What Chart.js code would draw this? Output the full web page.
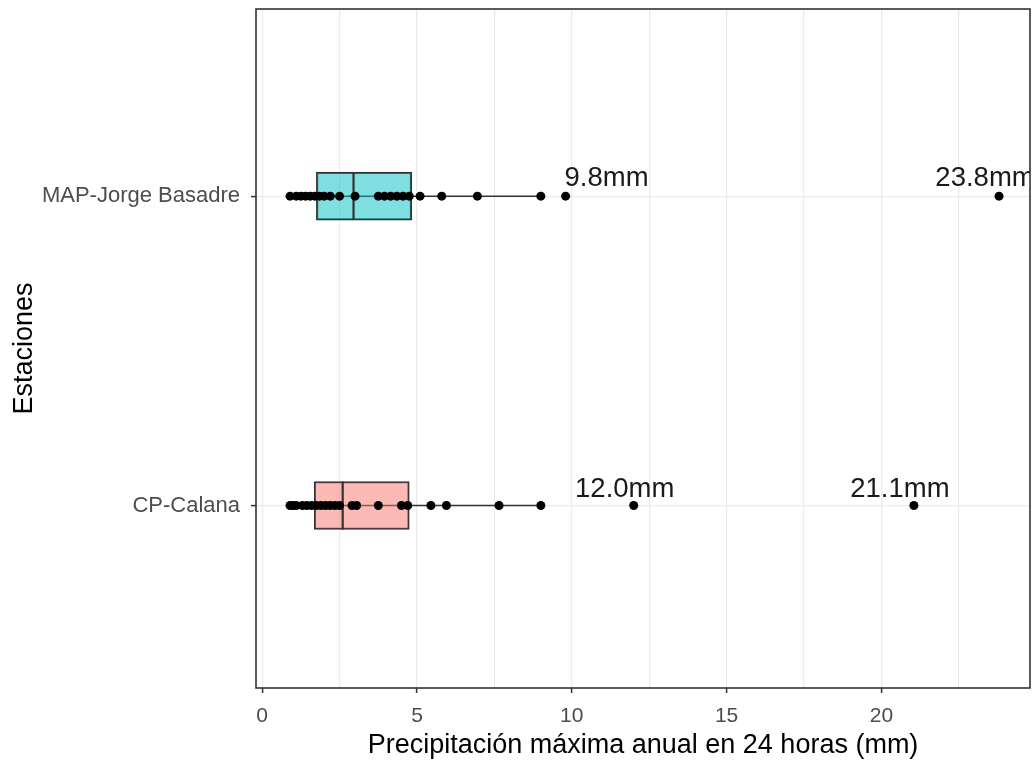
<!DOCTYPE html>
<html>
<head>
<meta charset="utf-8">
<script src="https://cdn.jsdelivr.net/npm/chart.js@4"></script>
<style>
  html, body { margin: 0; padding: 0; background: #ffffff; }
  #wrap { width: 1033px; height: 760px; }
</style>
</head>
<body>
<div id="wrap"><canvas id="chartBox"></canvas></div>
<script>
// Stations, bottom to top (y = 1, 2)
const stations = ['CP-Calana', 'MAP-Jorge Basadre'];

// Annual max 24h precipitation (mm) per station
const calanaValues = [0.9, 1.0, 1.1, 1.3, 1.45, 1.6, 1.75, 1.9, 2.05, 2.2, 2.35, 2.5,
    2.9, 3.05, 3.75, 4.5, 4.7, 5.45, 5.95, 7.65, 9.0, 12.0, 21.05];
const basadreValues = [0.9, 1.1, 1.25, 1.4, 1.55, 1.7, 1.85, 2.0, 2.2, 2.5, 3.0,
    3.75, 3.95, 4.15, 4.35, 4.55, 4.75, 5.1, 5.8, 6.95, 9.0, 9.8, 23.8];

// Box statistics (same order as stations)
const q1Values = [1.68, 1.75];
const medianValues = [2.6, 2.95];
const q3Values = [4.75, 4.83];
const whiskerLow = [0.9, 0.9];
const whiskerHigh = [9.0, 9.0];

// Labelled extreme values
const calanaLabels = [12.0, 21.05];
const basadreLabels = [9.8, 23.8];
const labelTexts = ['12.0mm', '21.1mm', '9.8mm', '23.8mm'];

// Axis ticks
const xMajorTicks = [0, 5, 10, 15, 20];
const xMinorTicks = [2.5, 7.5, 12.5, 17.5, 22.5];
const xTickLabels = ['0', '5', '10', '15', '20'];

const boxFills = ['rgba(248, 118, 109, 0.5)', 'rgba(0, 191, 196, 0.5)'];
const ink = '#333333';
const gridColor = '#ebebeb';

// =========================================
// DATASETS
// =========================================

const whiskerSets = stations.map((s, i) => ({
    type: 'line',
    data: [{ x: whiskerLow[i], y: i + 1 }, { x: whiskerHigh[i], y: i + 1 }],
    borderColor: ink,
    borderWidth: 1.5,
    pointRadius: 0,
    order: 3
}));

const boxSet = {
    type: 'bar',
    indexAxis: 'y',
    data: stations.map((s, i) => ({ x: [q1Values[i], q3Values[i]], y: i + 1 })),
    backgroundColor: boxFills,
    borderColor: ink,
    borderWidth: 1.5,
    borderSkipped: false,
    barThickness: 48,
    order: 2
};

const medianSet = {
    type: 'scatter',
    data: stations.map((s, i) => ({ x: medianValues[i], y: i + 1 })),
    pointStyle: 'line',
    pointRotation: 90,
    pointRadius: 24,
    pointBorderWidth: 2.2,
    pointBorderColor: ink,
    order: 1
};

const pointSet = {
    type: 'scatter',
    data: calanaValues.map(v => ({ x: v, y: 1 }))
        .concat(basadreValues.map(v => ({ x: v, y: 2 }))),
    pointRadius: 4.5,
    pointBorderWidth: 0,
    pointBackgroundColor: '#000000',
    order: 0
};

// Value labels + panel border
const panelPlugin = {
    id: 'panelPlugin',
    afterDatasetsDraw(chart) {
        const { ctx, chartArea, scales } = chart;
        const anchors = calanaLabels.map(v => [v, 1]).concat(basadreLabels.map(v => [v, 2]));
        const nudges = [[-9, -8], [-14, -8], [41, -10], [-14, -10]];
        ctx.save();
        ctx.beginPath();
        ctx.rect(chartArea.left, chartArea.top, chartArea.right - chartArea.left, chartArea.bottom - chartArea.top);
        ctx.clip();
        ctx.font = '27.5px "Liberation Sans", Arial, sans-serif';
        ctx.fillStyle = '#1a1a1a';
        ctx.textAlign = 'center';
        ctx.textBaseline = 'alphabetic';
        anchors.forEach((a, i) => {
            const px = scales.x.getPixelForValue(a[0]) + nudges[i][0];
            const py = scales.y.getPixelForValue(a[1]) + nudges[i][1];
            ctx.fillText(labelTexts[i], px, py);
        });
        ctx.restore();

        ctx.save();
        ctx.strokeStyle = ink;
        ctx.lineWidth = 1.6;
        ctx.strokeRect(chartArea.left, chartArea.top, chartArea.right - chartArea.left, chartArea.bottom - chartArea.top);
        ctx.restore();
    }
};

// =========================================
// CHART
// =========================================

const tickFont = { family: '"Liberation Sans", Arial, sans-serif', size: 21 };
const yTickFont = { family: '"Liberation Sans", Arial, sans-serif', size: 22 };
const titleFont = { family: '"Liberation Sans", Arial, sans-serif', size: 27, lineHeight: 1.05 };

new Chart(document.getElementById('chartBox').getContext('2d'), {
    type: 'scatter',
    data: { datasets: whiskerSets.concat([boxSet, medianSet, pointSet]) },
    plugins: [panelPlugin],
    options: {
        responsive: true,
        maintainAspectRatio: false,
        animation: false,
        layout: { autoPadding: false, padding: { top: 9, right: 3, left: 0, bottom: 0 } },
        plugins: {
            legend: { display: false },
            tooltip: { enabled: false }
        },
        scales: {
            x: {
                type: 'linear',
                min: -0.2,
                max: 24.8,
                offset: false,
                afterBuildTicks: axis => {
                    axis.ticks = xMajorTicks.concat(xMinorTicks)
                        .sort((a, b) => a - b)
                        .map(v => ({ value: v }));
                },
                afterFit: axis => {
                    axis.height = 72;
                    axis.paddingLeft = 0;
                    axis.paddingRight = 0;
                },
                border: { display: false },
                grid: {
                    offset: false,
                    color: gridColor,
                    lineWidth: 1.2,
                    tickLength: 5,
                    tickWidth: 1.5,
                    tickColor: c => (c.tick && xMajorTicks.includes(c.tick.value)) ? ink : 'rgba(0,0,0,0)'
                },
                ticks: {
                    autoSkip: false,
                    maxRotation: 0,
                    padding: 11,
                    color: '#4d4d4d',
                    font: tickFont,
                    callback: v => {
                        const k = xMajorTicks.indexOf(v);
                        return k >= 0 ? xTickLabels[k] : '';
                    }
                },
                title: {
                    display: true,
                    text: 'Precipitación máxima anual en 24 horas (mm)',
                    color: '#000000',
                    font: titleFont,
                    padding: { top: 0, bottom: 0 }
                }
            },
            y: {
                type: 'linear',
                min: 0.41,
                max: 2.605,
                offset: false,
                afterBuildTicks: axis => {
                    axis.ticks = stations.map((s, i) => ({ value: i + 1 }));
                },
                afterFit: axis => {
                    axis.width = 256;
                    axis.paddingTop = 0;
                    axis.paddingBottom = 0;
                },
                border: { display: false },
                grid: {
                    offset: false,
                    color: gridColor,
                    lineWidth: 1.2,
                    tickLength: 5,
                    tickWidth: 1.5,
                    tickColor: ink
                },
                ticks: {
                    autoSkip: false,
                    padding: 11,
                    color: '#4d4d4d',
                    font: yTickFont,
                    callback: v => stations[v - 1] || ''
                },
                title: {
                    display: true,
                    text: 'Estaciones',
                    color: '#000000',
                    font: titleFont,
                    padding: { top: 10, bottom: 0 }
                }
            }
        }
    }
});
</script>
</body>
</html>
